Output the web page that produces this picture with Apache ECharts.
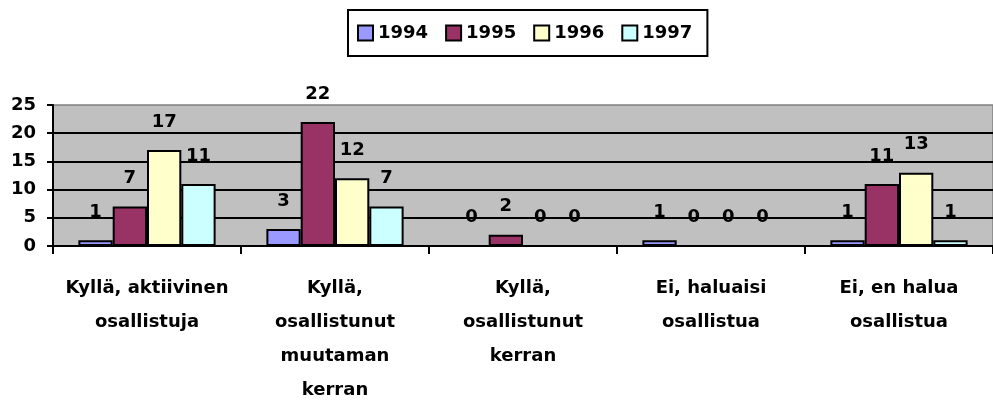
<!doctype html>
<html>
    <head>
        <meta charset="utf-8">
        <style>
            html, body { margin: 0; padding: 0; background: #fff; }
            #main { width: 993px; height: 400px; }
        </style>
    </head>
    <body>
        <div id="main"></div>
        <script src="https://cdn.jsdelivr.net/npm/echarts@6/dist/echarts.min.js"></script>
        <script>
            var categories = [
                'Kyllä, aktiivinen\nosallistuja',
                'Kyllä,\nosallistunut\nmuutaman\nkerran',
                'Kyllä,\nosallistunut\nkerran',
                'Ei, haluaisi\nosallistua',
                'Ei, en halua\nosallistua'
            ];
            var years = ['1994', '1995', '1996', '1997'];
            var v1994 = [1, 3, 0, 1, 1];
            var v1995 = [7, 22, 2, 0, 11];
            var v1996 = [17, 12, 0, 0, 13];
            var v1997 = [11, 7, 0, 0, 1];
            var colors = ['#9999FF', '#993366', '#FFFFCC', '#CCFFFF'];

            var font = "'DejaVu Sans', sans-serif";
            var chart = echarts.init(document.getElementById('main'));

            var values = [v1994, v1995, v1996, v1997];
            var series = years.map(function (y, i) {
                return {
                    name: y,
                    type: 'bar',
                    data: values[i],
                    barGap: '0%',
                    barCategoryGap: '27%',
                    itemStyle: {
                        color: colors[i],
                        borderColor: '#000',
                        borderWidth: 2
                    },
                    label: {
                        show: true,
                        position: 'top',
                        distance: 19,
                        color: '#000',
                        fontFamily: font,
                        fontWeight: 'bold',
                        fontSize: 18
                    }
                };
            });

            chart.setOption({
                animation: false,
                textStyle: { fontFamily: font },
                legend: {
                    data: years,
                    top: 10,
                    left: 348,
                    borderColor: '#000',
                    borderWidth: 2,
                    padding: [14, 15, 14, 9],
                    itemWidth: 15,
                    itemHeight: 15,
                    itemGap: 17,
                    icon: 'rect',
                    textStyle: {
                        color: '#000',
                        fontFamily: font,
                        fontWeight: 'bold',
                        fontSize: 18,
                        padding: [2, 0, 0, 0]
                    }
                },
                grid: {
                    left: 53,
                    right: 0,
                    top: 105,
                    bottom: 154,
                    outerBoundsMode: 'none',
                    show: true,
                    backgroundColor: '#C0C0C0',
                    borderColor: '#808080',
                    borderWidth: 1.5
                },
                xAxis: {
                    type: 'category',
                    data: categories,
                    axisLine: { lineStyle: { color: '#000', width: 2 } },
                    axisTick: { show: true, length: 8, lineStyle: { color: '#000', width: 2 } },
                    axisLabel: {
                        color: '#000',
                        fontFamily: font,
                        fontWeight: 'bold',
                        fontSize: 18,
                        lineHeight: 34,
                        margin: 25,
                        interval: 0
                    }
                },
                yAxis: {
                    type: 'value',
                    min: 0,
                    max: 25,
                    interval: 5,
                    axisLine: { show: true, lineStyle: { color: '#000', width: 2 } },
                    axisTick: { show: true, length: 6, lineStyle: { color: '#000', width: 2 } },
                    splitLine: { showMaxLine: false, lineStyle: { color: '#000', width: 2 } },
                    axisLabel: {
                        color: '#000',
                        fontFamily: font,
                        fontWeight: 'bold',
                        fontSize: 18,
                        margin: 17
                    }
                },
                series: series
            });

            window.onresize = chart.resize;
        </script>
    </body>
</html>
